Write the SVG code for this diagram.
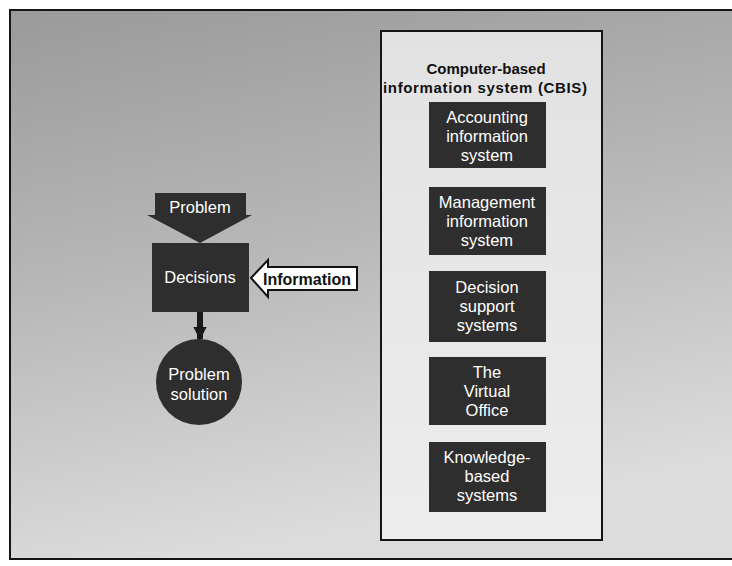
<svg xmlns="http://www.w3.org/2000/svg" width="732" height="566" viewBox="0 0 732 566">
  <defs>
    <linearGradient id="bg" x1="0" y1="0" x2="0.25" y2="1">
      <stop offset="0" stop-color="#9a9a9a"/>
      <stop offset="0.5" stop-color="#b8b8b8"/>
      <stop offset="1" stop-color="#dcdcdc"/>
    </linearGradient>
    <linearGradient id="panel" x1="0" y1="0" x2="0" y2="1">
      <stop offset="0" stop-color="#e2e2e2"/>
      <stop offset="1" stop-color="#ededed"/>
    </linearGradient>
    <marker id="head" viewBox="0 0 10 10" refX="9" refY="5" markerWidth="3" markerHeight="2.2" orient="auto" markerUnits="strokeWidth">
      <path d="M0,0 L10,5 L0,10 z" fill="#1a1a1a"/>
    </marker>
    <style>
      .dark { fill: #2e2e2e; }
      .lbl { font-family: "Liberation Sans", Arial, sans-serif; font-size: 16.5px; fill: #ffffff; text-anchor: middle; dominant-baseline: central; }
      .bold { font-family: "Liberation Sans", Arial, sans-serif; font-weight: bold; fill: #111111; text-anchor: middle; dominant-baseline: central; }
      .frame { fill: none; stroke: #151515; stroke-width: 2; }
    </style>
  </defs>

  <!-- page -->
  <rect x="0" y="0" width="732" height="566" fill="#ffffff"/>
  <rect x="10" y="10" width="722" height="549" fill="url(#bg)"/>
  <path class="frame" d="M732,10 H10 V559 H732"/>

  <!-- left side: problem to solution -->
  <g id="problem">
    <path class="dark" d="M155,193 H246 V215 H252 L200,243 L147,215 H155 Z"/>
    <text class="lbl" x="200" y="207" font-size="17">Problem</text>
  </g>

  <g id="decisions">
    <rect class="dark" x="152" y="243" width="97" height="69"/>
    <text class="lbl" x="200" y="277" font-size="17">Decisions</text>
  </g>

  <g id="information">
    <path d="M251,278 L268,260 V267 H357 V290 H268 V297 Z" fill="#ffffff" stroke="#111111" stroke-width="2" stroke-linejoin="miter"/>
    <text class="bold" x="307" y="279" font-size="16">Information</text>
  </g>

  <g id="solution">
    <circle class="dark" cx="199" cy="382" r="43"/>
    <text class="lbl" x="199" y="374" font-size="17">Problem</text>
    <text class="lbl" x="199" y="394" font-size="17">solution</text>
  </g>

  <g id="connectors">
    <line x1="200" y1="312" x2="200" y2="339" stroke="#1a1a1a" stroke-width="6" marker-end="url(#head)"/>
  </g>

  <!-- right side: CBIS panel -->
  <g id="cbis">
    <rect x="381" y="31" width="221" height="509" fill="url(#panel)" stroke="#151515" stroke-width="2"/>
    <text class="bold" x="486" y="68" font-size="15">Computer-based</text>
    <text class="bold" x="485" y="87" font-size="15" textLength="204" lengthAdjust="spacing">information system  (CBIS)</text>
  </g>

  <g id="accounting">
    <rect class="dark" x="429" y="102" width="117" height="66"/>
    <text class="lbl" x="487" y="117">Accounting</text>
    <text class="lbl" x="487" y="136">information</text>
    <text class="lbl" x="487" y="155">system</text>
  </g>

  <g id="management">
    <rect class="dark" x="429" y="187" width="117" height="68"/>
    <text class="lbl" x="487" y="202">Management</text>
    <text class="lbl" x="487" y="221">information</text>
    <text class="lbl" x="487" y="240">system</text>
  </g>

  <g id="dss">
    <rect class="dark" x="429" y="271" width="117" height="71"/>
    <text class="lbl" x="487" y="287">Decision</text>
    <text class="lbl" x="487" y="306">support</text>
    <text class="lbl" x="487" y="325">systems</text>
  </g>

  <g id="virtual-office">
    <rect class="dark" x="429" y="357" width="117" height="68"/>
    <text class="lbl" x="487" y="372">The</text>
    <text class="lbl" x="487" y="391">Virtual</text>
    <text class="lbl" x="487" y="410">Office</text>
  </g>

  <g id="knowledge">
    <rect class="dark" x="429" y="442" width="117" height="70"/>
    <text class="lbl" x="487" y="457">Knowledge-</text>
    <text class="lbl" x="487" y="476">based</text>
    <text class="lbl" x="487" y="495">systems</text>
  </g>
</svg>
